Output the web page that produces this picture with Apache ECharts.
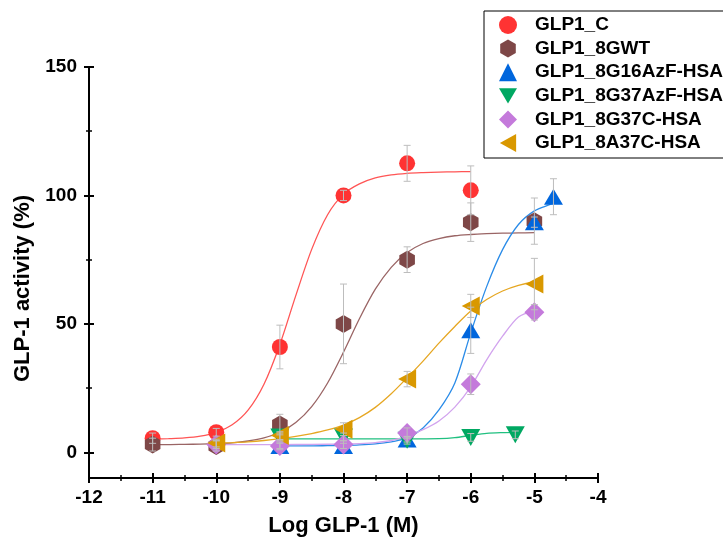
<!DOCTYPE html>
<html lang="en" style="height: 100%">
<head>
  <meta charset="utf-8">
  <title>GLP-1 activity</title>
  <script src="https://cdn.jsdelivr.net/npm/echarts@6/dist/echarts.min.js"></script>
</head>
<body style="height: 100%; margin: 0; background: #fff;">
  <div id="container" style="width: 723px; height: 545px;"></div>
  <script type="text/javascript">
    // series names (legend order)
    var names = ['GLP1_C', 'GLP1_8GWT', 'GLP1_8G16AzF-HSA', 'GLP1_8G37AzF-HSA', 'GLP1_8G37C-HSA', 'GLP1_8A37C-HSA'];

    // measured points: [log conc, activity %, error]
    var ptsC = [[-11, 5.5, 2], [-10, 7.8, 1.5], [-9, 41, 8.5], [-8, 100, 2], [-7, 112.5, 7], [-6, 102, 9.5]];
    var ptsWT = [[-11, 3, 2.5], [-10, 2.5, 2], [-9, 10.8, 4], [-8, 50, 15.5], [-7, 75, 5], [-6, 89.6, 7.5], [-5, 90, 9]];
    var pts16 = [[-9, 2.5, 1], [-8, 2.5, 1], [-7, 5, 1], [-6, 47.5, 9], [-5, 89.6, 2], [-4.7, 99.5, 7]];
    var pts37Az = [[-9, 6, 1.5], [-8, 6, 1.5], [-7, 4.7, 1.5], [-6, 5.8, 1.5], [-5.3, 6.8, 1.5]];
    var pts37C = [[-10, 3, 1.5], [-9, 2.5, 1.5], [-8, 3, 1.5], [-7, 7.5, 2], [-6, 26.5, 4], [-5, 54.5, 3]];
    var ptsA37 = [[-10, 3.6, 1.5], [-9, 6.5, 1.5], [-8, 9, 2.5], [-7, 28.5, 3], [-6, 57, 4.5], [-5, 65.5, 10]];

    // fitted curves
    var fitC = [[-11, 5.1], [-10.75, 5.3], [-10.5, 5.6], [-10.25, 6.3], [-10, 7.8], [-9.75, 10.7], [-9.5, 16.4],
      [-9.25, 26.5], [-9, 42], [-8.75, 61], [-8.5, 79], [-8.25, 92.5], [-8, 100.5], [-7.75, 104.5], [-7.5, 106.8],
      [-7.25, 108], [-7, 108.6], [-6.75, 108.9], [-6.5, 109.1], [-6.25, 109.2], [-6, 109.3]];
    var fitWT = [[-11, 3], [-10.75, 3], [-10.5, 3.1], [-10.25, 3.2], [-10, 3.4], [-9.75, 3.7], [-9.5, 4.4],
      [-9.25, 5.6], [-9, 7.8], [-8.75, 11.6], [-8.5, 17.8], [-8.25, 27], [-8, 39], [-7.75, 52], [-7.5, 63.5],
      [-7.25, 72], [-7, 77.8], [-6.75, 81.3], [-6.5, 83.2], [-6.25, 84.3], [-6, 84.8], [-5.75, 85.1],
      [-5.5, 85.3], [-5.25, 85.4], [-5, 85.5]];
    var fit16 = [[-9, 2.5], [-8.75, 2.5], [-8.5, 2.5], [-8.25, 2.6], [-8, 2.7], [-7.75, 2.9], [-7.5, 3.3],
      [-7.25, 4.1], [-7, 5.5], [-6.75, 9.5], [-6.5, 16.5], [-6.25, 27], [-6, 46.5], [-5.75, 64.5], [-5.5, 78.9],
      [-5.25, 88.7], [-5, 94], [-4.75, 96.5], [-4.7, 97]];
    var fit37Az = [[-9, 5.2], [-8.5, 5.2], [-8, 5.2], [-7.5, 5.2], [-7, 5.2], [-6.5, 5.3], [-6.25, 5.7],
      [-6, 6.6], [-5.75, 7.4], [-5.5, 7.7], [-5.3, 7.8]];
    var fit37C = [[-10, 3], [-9.5, 3], [-9, 3], [-8.5, 3.1], [-8, 3.2], [-7.75, 3.4], [-7.5, 3.8], [-7.25, 4.6],
      [-7, 6.3], [-6.75, 8.8], [-6.5, 12.2], [-6.25, 17.6], [-6, 25.5], [-5.75, 36], [-5.5, 45.2],
      [-5.25, 52.7], [-5, 55.1]];
    var fitA37 = [[-10, 3.6], [-9.75, 3.8], [-9.5, 4.1], [-9.25, 4.6], [-9, 5.3], [-8.75, 6.2], [-8.5, 7.3],
      [-8.25, 8.7], [-8, 10.6], [-7.75, 13.5], [-7.5, 17.5], [-7.25, 22.8], [-7, 29], [-6.75, 35.5],
      [-6.5, 42.5], [-6.25, 49], [-6, 55], [-5.75, 59.5], [-5.5, 62.8], [-5.25, 65], [-5, 66.3]];

    var yMajor = [0, 50, 100, 150];
    var yMinor = [25, 75, 125];

    var points = [ptsC, ptsWT, pts16, pts37Az, pts37C, ptsA37];
    var fits = [fitC, fitWT, fit16, fit37Az, fit37C, fitA37];
    var markColors = ['#ff3333', '#7e4747', '#0066dd', '#00a862', '#c47adb', '#d99800'];
    var lineColors = ['#ff5555', '#9a6565', '#2b8ce8', '#20c080', '#d2a4ee', '#e6a723'];
    var hexagon = 'path://M0,-1 L0.866,-0.5 L0.866,0.5 L0,1 L-0.866,0.5 L-0.866,-0.5 Z';
    var symbols = ['circle', hexagon, 'triangle', 'triangle', 'diamond', 'triangle'];
    var symbolSizes = [16, 18, [19, 16], [19, 17], 20, [19, 18]];
    var symbolRotates = [0, 0, 0, 180, 0, 90];
    // legend icons (legend does not follow the symbol rotation)
    var legendIcons = ['circle', hexagon, 'triangle', 'path://M0,0 L2,0 L1,1.7 Z', 'diamond', 'path://M0,1 L1.8,0 L1.8,2 Z'];

    var font = "'Liberation Sans', Arial, sans-serif";
    var dom = document.getElementById('container');
    var myChart = echarts.init(dom, null, { renderer: 'canvas' });

    var series = [];
    fits.forEach(function (f, i) {
      series.push({
        name: 'fit_' + i,
        type: 'line',
        data: f,
        smooth: 0.3,
        showSymbol: false,
        silent: true,
        lineStyle: { color: lineColors[i], width: 1.3 },
        z: 2
      });
    });
    points.forEach(function (p, i) {
      series.push({
        name: names[i],
        type: 'scatter',
        data: p.map(function (d) { return [d[0], d[1]]; }),
        symbol: symbols[i],
        symbolSize: symbolSizes[i],
        symbolRotate: symbolRotates[i],
        symbolKeepAspect: true,
        itemStyle: { color: markColors[i], opacity: 1 },
        z: 3
      });
    });
    var errData = [];
    points.forEach(function (p) {
      p.forEach(function (d) { errData.push(d); });
    });
    series.push({
      type: 'custom',
      name: 'error',
      silent: true,
      z: 4,
      data: errData,
      renderItem: function (params, api) {
        var x = api.value(0), y = api.value(1), e = api.value(2);
        var top = api.coord([x, y + e]);
        var bot = api.coord([x, y - e]);
        var w = 3.5;
        var style = { stroke: '#bdbdbd', lineWidth: 1 };
        return {
          type: 'group',
          children: [
            { type: 'line', shape: { x1: top[0], y1: top[1], x2: bot[0], y2: bot[1] }, style: style },
            { type: 'line', shape: { x1: top[0] - w, y1: top[1], x2: top[0] + w, y2: top[1] }, style: style },
            { type: 'line', shape: { x1: bot[0] - w, y1: bot[1], x2: bot[0] + w, y2: bot[1] }, style: style }
          ]
        };
      }
    });

    var axisBlack = { color: '#000', width: 2 };
    var yBase = {
      type: 'value', min: -10, max: 150, position: 'left', offset: 0,
      splitLine: { show: false }, axisLine: { show: false, onZero: false }, axisLabel: { show: false }
    };

    var option = {
      animation: false,
      backgroundColor: '#fff',
      grid: { left: 89, right: 125, top: 67, bottom: 67 },
      legend: {
        data: names.map(function (n, i) {
          return { name: n, icon: legendIcons[i], itemStyle: { color: markColors[i] } };
        }),
        orient: 'vertical',
        left: 484,
        top: 11,
        padding: [4, 60, 5, 15],
        itemWidth: 18,
        itemHeight: 18,
        itemGap: 3.6,
        borderColor: '#000',
        borderWidth: 1,
        borderRadius: 0,
        selectedMode: false,
        textStyle: {
          fontFamily: font, fontSize: 19, fontWeight: 'bold', color: '#000',
          lineHeight: 20, padding: [0, 0, 0, 13]
        }
      },
      xAxis: [
        {
          type: 'value', min: -12, max: -4, interval: 1, position: 'bottom',
          name: 'Log GLP-1 (M)', nameLocation: 'middle', nameGap: 37,
          nameTextStyle: { fontFamily: font, fontSize: 22, fontWeight: 'bold', color: '#000' },
          splitLine: { show: false },
          axisLine: { show: true, onZero: false, lineStyle: axisBlack },
          axisTick: { show: true, length: 5, lineStyle: axisBlack },
          minorTick: { show: true, splitNumber: 2, length: 3, lineStyle: { color: '#000', width: 1.5 } },
          axisLabel: { margin: 10, fontFamily: font, fontSize: 19, fontWeight: 'bold', color: '#000' }
        },
        {
          type: 'value', min: -12, max: -4, interval: 1, position: 'bottom', offset: 0,
          splitLine: { show: false },
          axisLine: { show: false, onZero: false },
          axisTick: { show: true, inside: true, length: 5, lineStyle: axisBlack },
          minorTick: { show: true, splitNumber: 2, length: 3, lineStyle: { color: '#000', width: 1.5 } },
          axisLabel: { show: false }
        }
      ],
      yAxis: [
        Object.assign({}, yBase, {
          name: 'GLP-1 activity (%)', nameLocation: 'middle', nameGap: 51, nameRotate: 90,
          nameTextStyle: {
            fontFamily: font, fontSize: 22, fontWeight: 'bold', color: '#000', padding: [0, 32, 0, 0]
          },
          axisLine: { show: true, onZero: false, lineStyle: axisBlack },
          axisTick: { show: true, length: 5, customValues: yMajor, lineStyle: axisBlack },
          axisLabel: {
            show: true, margin: 12, customValues: yMajor,
            fontFamily: font, fontSize: 19, fontWeight: 'bold', color: '#000'
          }
        }),
        Object.assign({}, yBase, {
          axisTick: { show: true, inside: true, length: 5, customValues: yMajor, lineStyle: axisBlack }
        }),
        Object.assign({}, yBase, {
          axisTick: { show: true, length: 3, customValues: yMinor, lineStyle: { color: '#000', width: 1.5 } }
        }),
        Object.assign({}, yBase, {
          axisTick: { show: true, inside: true, length: 3, customValues: yMinor, lineStyle: { color: '#000', width: 1.5 } }
        })
      ],
      series: series
    };

    myChart.setOption(option);
    window.addEventListener('resize', myChart.resize);
  </script>
</body>
</html>
